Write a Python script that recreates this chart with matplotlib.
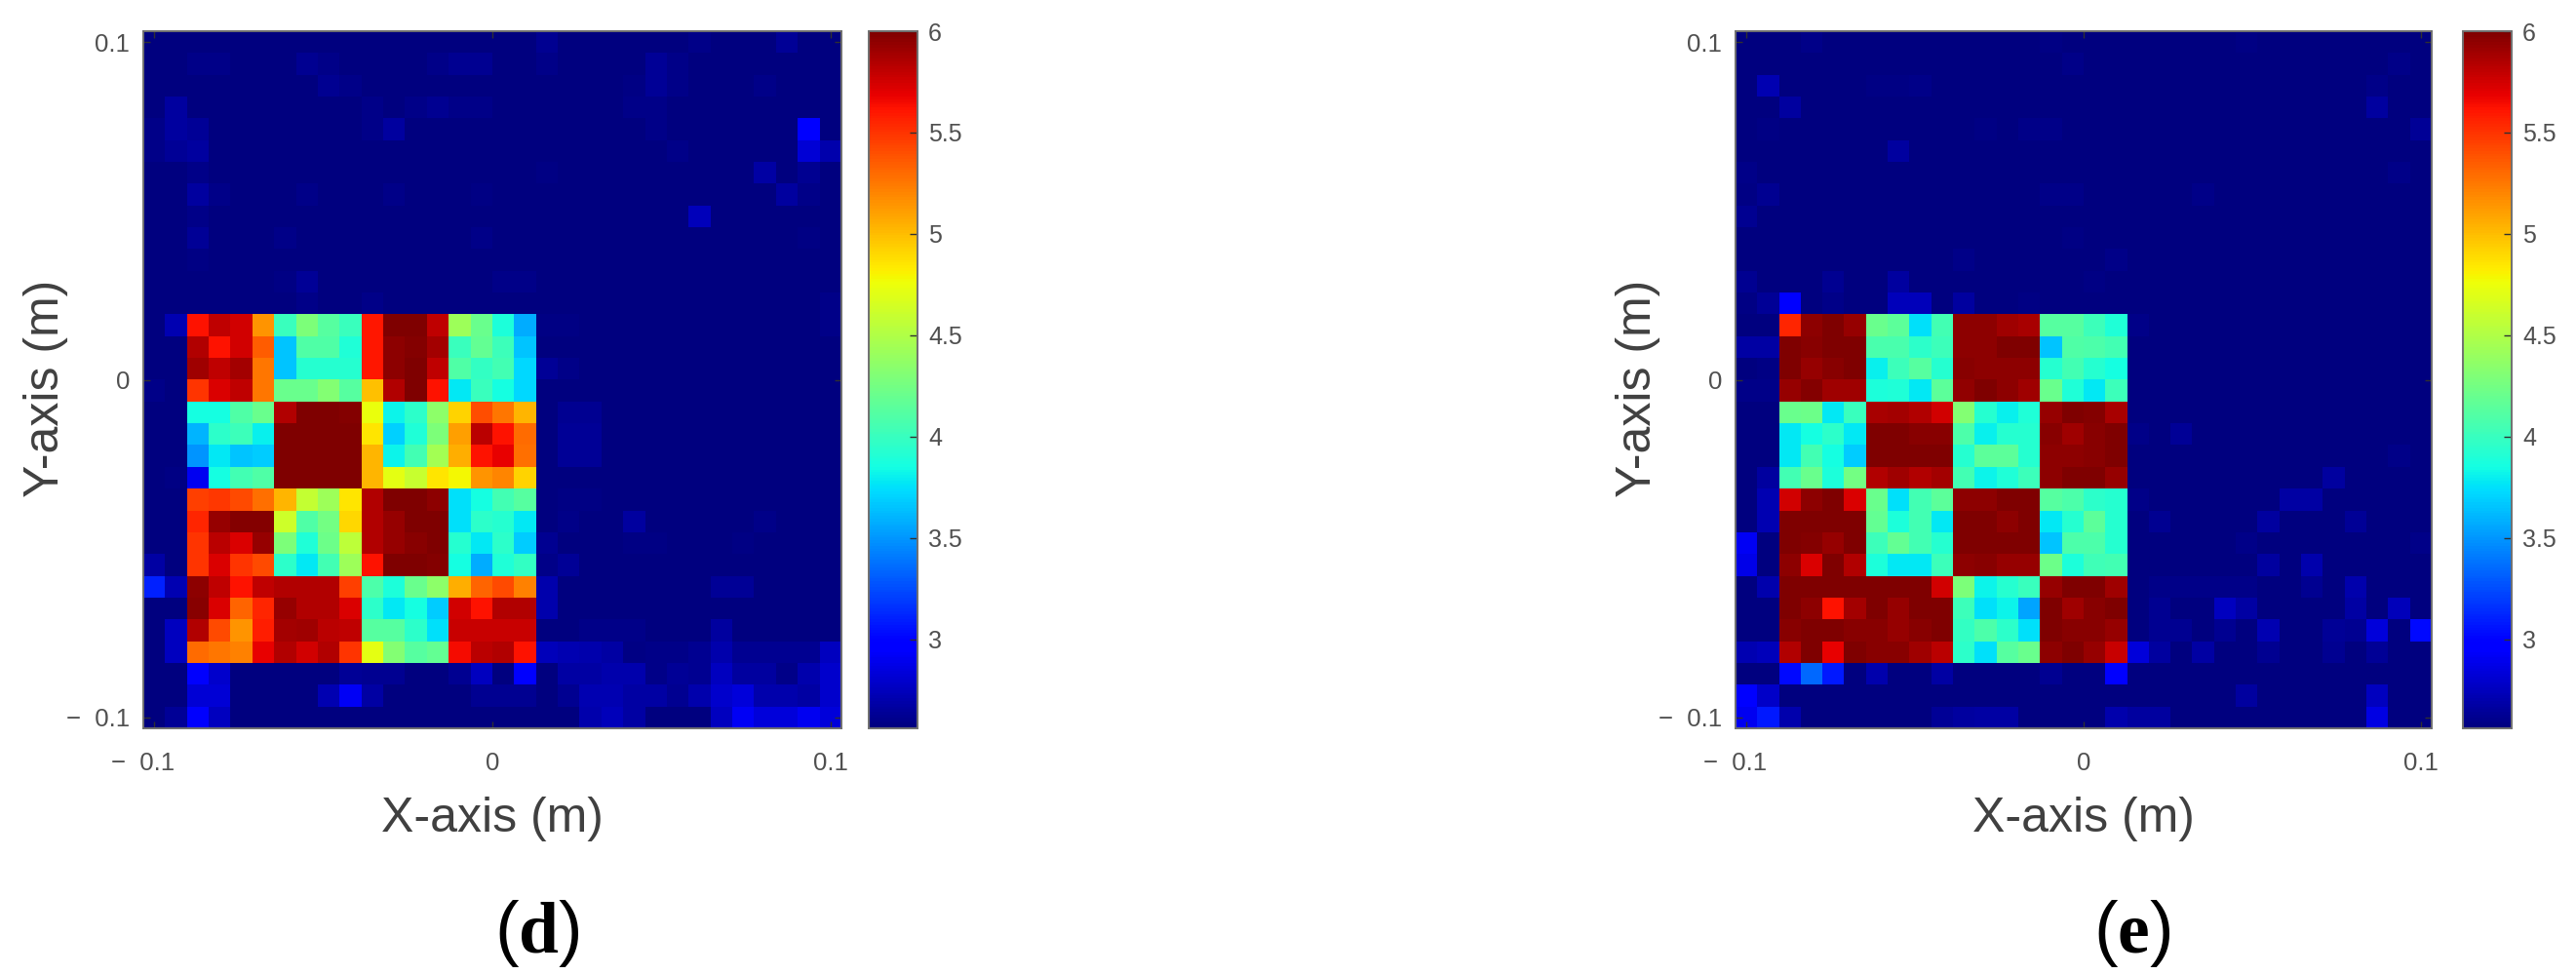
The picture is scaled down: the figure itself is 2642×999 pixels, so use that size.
import numpy as np
import matplotlib
matplotlib.use("Agg")
import matplotlib.pyplot as plt
from matplotlib.transforms import ScaledTranslation

plt.rcParams['font.family'] = ['Liberation Sans', 'DejaVu Sans']
plt.rcParams['mathtext.fontset'] = 'custom'
plt.rcParams['mathtext.rm'] = 'Liberation Serif'
plt.rcParams['mathtext.bf'] = 'Liberation Serif:bold'

W, H = 2642, 999
VMIN, VMAX = 2.56, 6.0
X_TICKS = [-0.1, 0, 0.1]
X_TICK_LABELS = ['\u2212  0.1', '0', '0.1']
CB_TICKS = [3, 3.5, 4, 4.5, 5, 5.5, 6]
CB_TICK_LABELS = ['3', '3.5', '4', '4.5', '5', '5.5', '6']
b = 2.56

d_top = [
 [b,b,b,b,b,b,b,b,b,b,b,b,b,b,b,b,b,b,2.62,b,b,b,b,b,b,2.59,b,b,b,2.64,b,b],
 [b,b,2.6,2.6,b,b,b,2.62,2.6,b,b,b,b,2.6,2.62,2.62,b,b,2.6,b,b,b,b,2.64,2.59,b,b,b,b,b,b,b],
 [b,b,b,b,b,b,b,b,2.62,2.6,b,b,b,b,b,b,b,b,b,b,b,b,2.58,2.64,2.6,b,b,b,2.59,b,b,b],
 [b,2.66,b,b,b,b,b,b,b,b,2.6,b,2.6,2.62,2.59,2.59,b,b,b,b,b,b,2.6,2.6,b,b,b,b,b,b,b,b],
 [2.6,2.66,2.64,b,b,b,b,b,b,b,2.6,2.66,b,b,b,b,b,b,b,b,b,b,b,2.6,b,b,b,b,b,b,3.0,b],
 [2.6,2.64,2.66,b,b,b,b,b,b,b,b,b,b,b,b,b,b,b,b,b,b,b,b,b,2.6,b,b,b,b,b,2.82,2.7],
 [b,b,2.6,b,b,b,b,b,b,b,b,b,b,b,b,b,b,b,2.58,b,b,b,b,b,b,b,b,b,2.68,b,2.62,b],
 [b,b,2.66,2.6,b,b,b,2.6,b,b,b,2.59,b,b,b,2.58,b,b,b,b,b,b,b,b,b,b,b,b,b,2.66,2.6,b],
 [b,b,2.6,b,b,b,b,b,b,b,b,b,b,b,b,b,b,b,b,b,b,b,b,b,b,2.74,b,b,b,b,b,b],
 [b,b,2.64,b,b,b,2.6,b,b,b,b,b,b,b,b,2.59,b,b,b,b,b,b,b,b,b,b,b,b,b,b,2.58,b],
 [b,b,2.58,b,b,b,b,b,b,b,b,b,b,b,b,b,b,b,b,b,b,b,b,b,b,b,b,b,b,b,b,b],
 [b,b,b,b,b,b,2.58,2.64,b,b,b,b,b,b,b,b,2.6,2.6,b,b,b,b,b,b,b,b,b,b,b,b,b,b],
 [b,b,b,b,b,b,b,2.6,b,b,2.6,b,b,b,b,b,b,b,b,b,b,b,b,b,b,b,b,b,b,b,b,2.6],
]
d_left = [[b,2.72],[b,b],[b,b],[2.6,b],[b,b],[b,b],[b,b],[b,2.58],
          [b,b],[b,b],[b,b],[2.68,b],[3.1,2.72],[b,b],[b,2.76],[b,2.76]]
d_block = [
 [5.62,5.8,5.75,5.15,4.0,4.28,4.12,4.0,5.6,6,6,5.8,4.42,4.2,3.88,3.58],
 [5.85,5.62,5.75,5.35,3.65,4.1,4.1,3.9,5.6,5.95,5.98,5.88,4.0,4.18,4.02,3.65],
 [5.9,5.8,5.88,5.25,3.65,3.92,3.92,3.92,5.6,5.95,6,5.8,4.1,3.98,4.05,3.72],
 [5.5,5.72,5.8,5.25,4.2,4.2,4.32,4.12,4.98,5.85,6,5.62,3.78,4.0,3.86,3.72],
 [3.85,3.85,4.1,4.2,5.85,6,6,5.98,4.75,3.82,3.95,4.35,4.92,5.4,5.25,5.02],
 [3.6,3.95,4.02,3.8,6,6,6,6,4.85,3.7,3.9,4.28,5.1,5.82,5.62,5.3],
 [3.5,3.78,3.65,3.68,6,6,6,6,5.02,3.82,4.05,4.45,5.05,5.62,5.68,5.28],
 [2.9,3.85,4.05,4.1,6,6,6,6,5.02,4.72,4.6,4.85,4.78,5.15,5.2,4.92],
 [5.45,5.48,5.42,5.28,5.02,4.58,4.42,4.85,5.85,6,6,5.95,3.75,3.85,4.05,4.12],
 [5.55,5.92,5.98,5.98,4.62,4.1,4.25,4.9,5.85,5.92,6,6,3.75,3.95,3.92,3.78],
 [5.5,5.82,5.72,5.92,4.28,3.9,4.22,4.55,5.85,5.92,5.96,6,3.92,3.78,3.95,3.68],
 [5.5,5.72,5.5,5.42,3.95,3.78,4.05,4.42,5.62,6,6,5.98,3.85,3.58,3.9,3.98],
 [5.95,5.8,5.62,5.8,5.85,5.85,5.85,5.45,4.08,3.88,4.2,4.35,5.05,5.32,5.42,5.22],
 [5.97,5.72,5.32,5.55,5.92,5.85,5.85,5.72,3.95,3.78,3.85,3.68,5.75,5.62,5.85,5.85],
 [5.85,5.42,5.15,5.58,5.88,5.9,5.82,5.8,4.12,4.12,3.95,3.75,5.78,5.78,5.78,5.78],
 [5.3,5.25,5.22,5.68,5.85,5.75,5.85,5.5,4.72,4.32,4.12,4.18,5.65,5.82,5.85,5.62],
]
d_right = [
 [2.58,2.58,b,b,b,b,b,b,b,b,b,b,b,2.6],
 [b,b,b,b,b,b,b,b,b,b,b,b,b,b],
 [2.64,2.59,b,b,b,b,b,b,b,b,b,b,b,b],
 [b,b,b,b,b,b,b,b,b,b,b,b,b,b],
 [b,2.62,2.62,b,b,b,b,b,b,b,b,b,b,b],
 [b,2.64,2.64,b,b,b,b,b,b,b,b,b,b,b],
 [b,2.64,2.64,b,b,b,b,b,b,b,b,b,b,b],
 [b,b,b,b,b,b,b,b,b,b,b,b,b,b],
 [b,2.58,2.58,b,b,b,b,b,b,b,b,b,b,b],
 [b,2.6,b,b,2.66,b,b,b,b,b,2.6,b,b,b],
 [2.62,b,b,b,2.58,2.58,b,b,b,2.58,b,b,b,b],
 [2.6,2.64,b,b,b,b,b,b,b,b,b,b,b,b],
 [2.7,b,b,b,b,b,b,b,2.64,2.64,b,b,b,b],
 [2.7,b,b,b,b,b,b,b,b,b,b,b,b,b],
 [b,b,2.6,2.6,2.6,b,b,b,2.66,b,b,b,b,b],
 [2.74,2.72,2.7,2.68,2.58,2.6,2.6,2.62,2.7,2.62,2.62,2.62,2.62,2.76],
]
d_bottom = [
 [b,b,2.94,2.8,b,b,b,b,b,2.64,2.62,2.62,b,b,2.62,2.76,b,2.94,b,2.68,2.68,2.7,2.7,2.6,2.64,2.62,2.75,2.66,2.66,2.6,2.7,2.8],
 [b,b,2.82,2.82,b,b,b,b,2.72,2.92,2.68,b,b,b,b,2.62,2.62,2.62,b,2.62,2.72,2.72,2.68,2.68,2.62,2.7,2.8,2.84,2.7,2.7,2.68,2.8],
 [b,2.64,2.94,2.76,b,b,b,b,b,b,b,b,b,b,b,b,b,b,b,b,2.7,2.74,2.68,b,b,b,2.76,2.92,2.84,2.84,2.9,2.84],
]

e_top = [
 [b,b,b,2.6,b,b,b,b,b,b,b,b,b,b,2.58,b,b,b,b,b,b,b,b,2.58,b,b,b,b,b,b,b,b],
 [b,b,b,b,b,b,b,b,b,b,b,b,b,b,b,2.6,b,b,b,b,b,b,b,b,b,b,b,b,b,b,2.6,b],
 [b,2.72,b,b,b,b,2.58,2.58,2.6,b,b,b,b,b,b,b,b,b,b,b,b,b,b,b,b,b,b,b,b,2.6,b,b],
 [b,b,2.66,b,b,b,b,b,b,b,b,b,b,b,b,b,b,b,b,b,b,b,b,b,b,b,b,b,b,2.66,b,b],
 [b,2.58,b,b,b,b,b,b,b,b,b,2.58,b,2.6,2.6,b,b,b,b,b,b,b,b,b,b,b,b,b,b,b,b,2.64],
 [b,b,b,b,b,b,b,2.66,b,b,b,b,b,b,b,b,b,b,b,b,b,b,b,b,b,b,b,b,b,b,b,b],
 [2.6,b,b,b,b,b,b,b,b,b,b,b,b,b,b,b,b,b,b,b,b,b,b,b,b,b,b,b,b,b,2.6,b],
 [2.58,2.62,b,b,b,b,b,b,b,b,b,b,b,b,2.6,2.6,b,b,b,b,b,2.59,b,b,b,b,b,b,b,b,b,b],
 [2.62,b,b,b,b,b,b,b,b,b,b,b,b,b,b,b,b,b,b,b,b,b,b,b,b,b,b,b,b,b,b,b],
 [b,b,b,b,b,b,b,b,b,b,b,b,b,b,b,2.58,b,b,b,b,b,b,b,b,b,b,b,b,b,b,b,b],
 [b,b,b,b,b,b,b,b,b,b,2.6,b,b,b,b,b,b,2.6,b,b,b,b,b,b,b,b,b,b,b,b,b,b],
 [2.62,b,b,b,2.62,b,b,2.66,b,b,b,b,b,b,b,b,2.58,b,b,b,b,b,b,b,b,b,b,b,b,b,b,b],
 [2.58,2.64,3.0,b,2.6,b,b,2.74,2.74,b,2.66,b,b,2.58,b,b,b,b,b,b,b,b,b,b,b,b,b,b,b,b,b,b],
]
e_left = [[b,b],[2.68,2.68],[b,2.58],[2.6,2.6],[b,b],[b,b],[b,b],[b,2.66],
          [b,2.72],[b,2.72],[2.92,b],[2.88,b],[b,2.7],[b,b],[b,b],[2.72,2.74]]
e_block = [
 [5.55,5.95,6,5.92,4.2,4.15,3.75,4.05,5.95,5.95,5.9,5.87,4.12,4.12,4.02,3.9],
 [6,5.97,6,6,4.07,4.07,3.95,4.02,5.95,5.95,6,6,3.65,4.1,4.08,4.05],
 [6,5.92,5.97,6,3.8,4.02,4.12,3.92,5.97,5.95,5.95,5.95,3.92,4.05,3.92,3.85],
 [5.92,5.98,5.9,5.9,3.88,3.9,3.78,4.15,5.94,6,5.95,5.9,4.2,3.9,3.78,4.02],
 [4.2,4.22,3.78,4.0,5.87,5.88,5.85,5.75,4.32,3.92,3.8,3.9,5.93,6,5.98,5.87],
 [3.78,3.85,3.95,3.78,6,6,5.97,5.97,4.08,3.8,3.92,3.92,5.97,5.9,5.97,6],
 [3.78,4.05,3.85,3.68,6,6,6,6,3.92,4.15,4.15,3.92,5.95,5.95,5.97,6],
 [4.05,4.2,3.88,4.25,5.85,5.9,5.85,5.88,4.05,3.82,3.9,4.02,5.95,6,6,5.92],
 [5.75,5.95,6,5.72,4.2,3.75,4.05,4.15,5.95,5.95,6,6,4.12,4.08,3.95,3.92],
 [6,6,6,6,4.18,3.88,4.05,3.78,6,6,5.95,6,3.78,3.92,4.15,3.92],
 [6,5.98,5.92,6,4.02,4.18,4.05,3.92,6,6,6,6,3.65,4.08,4.08,3.92],
 [5.95,5.72,6,5.85,3.88,3.78,3.78,4.02,5.95,5.97,5.92,5.92,4.22,3.88,4.03,4.05],
 [6,6,6,6,6,6,6,5.75,4.28,3.82,3.92,4.0,5.92,6,6,5.9],
 [6,5.95,5.62,5.88,6,5.93,6,6,4.02,3.75,3.82,3.55,6,5.9,5.97,6],
 [5.97,6,6,5.97,5.97,5.92,5.97,6,3.98,4.08,3.95,3.75,6,5.97,5.97,5.92],
 [5.85,6,5.68,6,5.97,5.97,5.9,5.82,3.95,3.75,4.12,4.2,5.95,6,5.93,5.78],
]
e_right = [
 [2.6,b,b,b,b,b,b,b,b,b,b,b,b,b],
 [b,b,b,b,b,b,b,b,b,b,b,b,b,b],
 [b,b,b,b,b,b,b,b,b,b,b,b,b,b],
 [b,b,b,b,b,b,b,b,b,b,b,b,b,b],
 [b,b,b,b,b,b,b,b,b,b,b,b,b,b],
 [2.6,b,2.64,b,b,b,b,b,b,b,b,b,b,b],
 [b,b,b,b,b,b,b,b,b,b,b,b,2.6,b],
 [b,b,b,b,b,b,b,b,b,2.66,b,b,b,b],
 [2.6,b,b,b,b,b,b,2.68,2.68,b,b,b,b,b],
 [b,2.62,b,b,b,b,2.66,b,b,b,2.64,b,b,b],
 [b,b,b,b,b,2.6,b,b,b,b,b,b,b,2.6],
 [b,b,b,b,b,b,2.66,b,2.7,b,b,b,b,b],
 [b,2.6,2.6,2.6,2.6,2.6,b,b,2.62,b,2.7,b,b,b],
 [b,2.62,b,b,2.76,2.68,b,b,b,b,2.68,b,2.74,b],
 [b,2.62,2.62,b,2.62,b,2.72,b,b,2.64,2.62,2.84,b,3.02],
 [2.84,2.66,b,2.68,b,b,2.62,b,b,2.62,b,2.64,b,b],
]
e_bottom = [
 [b,b,3.02,3.35,3.08,b,2.7,b,b,2.68,b,b,b,b,2.62,b,b,3.0,b,b,b,b,b,b,b,b,b,b,b,b,b,b],
 [3.0,2.78,b,b,b,b,b,b,b,b,b,b,b,b,b,b,b,b,b,b,b,b,b,2.66,b,b,b,b,b,2.76,b,b],
 [2.9,3.08,2.7,b,b,b,b,b,b,2.64,2.66,2.68,2.68,b,b,b,b,2.7,2.66,2.66,b,b,b,b,b,b,b,b,b,2.86,b,b],
]


def px_rect(x0, x1, y0, y1):
    return [x0 / W, 1 - y1 / H, (x1 - x0) / W, (y1 - y0) / H]


def panel(fig, top, left, block, right, bottom, ax_px, cb_px, letter, letter_x):
    grid = np.vstack([np.array(top), np.hstack([left, block, right]), np.array(bottom)])
    ax = fig.add_axes(px_rect(*ax_px))
    lim = 0.1033
    im = ax.imshow(grid, cmap='jet', vmin=VMIN, vmax=VMAX, extent=[-lim, lim, -lim, lim],
                   aspect='auto', interpolation='nearest', origin='upper')
    ax.set_xticks(X_TICKS, X_TICK_LABELS)
    ax.set_yticks(X_TICKS, X_TICK_LABELS)
    ax.tick_params(direction='in', length=5, width=1.0, top=True, right=True, color='#303030',
                   labelsize=18.5, labelcolor='#505050')
    ax.tick_params(axis='x', pad=17)
    ax.tick_params(axis='y', pad=10)
    # the "- 0.1" label sits with its digits centred on the tick
    lab = ax.get_xticklabels()[0]
    lab.set_ha('right')
    lab.set_transform(lab.get_transform() + ScaledTranslation(21 / 100, 0, fig.dpi_scale_trans))
    for s in ax.spines.values():
        s.set_color('#707070')
        s.set_linewidth(1.4)
    cx = (ax_px[0] + ax_px[1]) / 2
    fig.text(cx / W, 1 - 840 / H, 'X-axis (m)', fontsize=36, color='#404040', ha='center', va='center')
    fig.text((ax_px[0] - 100) / W, 1 - 398 / H, 'Y-axis (m)', fontsize=36, color='#404040',
             rotation=90, ha='center', va='center')
    fig.text(letter_x / W, 1 - 958 / H, '($\\mathbf{%s}$)' % letter, fontsize=53, color='black',
             ha='center', va='center')

    cax = fig.add_axes(px_rect(*cb_px))
    cb = fig.colorbar(im, cax=cax)
    cb.set_ticks(CB_TICKS, labels=CB_TICK_LABELS)
    cb.ax.tick_params(direction='in', length=6, width=1.0, color='#303030', labelsize=18,
                      labelcolor='#505050', pad=8)
    cb.outline.set_edgecolor('#707070')
    cb.outline.set_linewidth(1.4)


fig = plt.figure(figsize=(W / 100, H / 100), dpi=100, facecolor='white')
panel(fig, d_top, d_left, d_block, d_right, d_bottom, (147, 863, 32, 747), (891, 941, 32, 747), 'd', 551)
panel(fig, e_top, e_left, e_block, e_right, e_bottom, (1780, 2494, 32, 747), (2526, 2576, 32, 747), 'e', 2187)
fig.savefig('out.png', dpi=100)
